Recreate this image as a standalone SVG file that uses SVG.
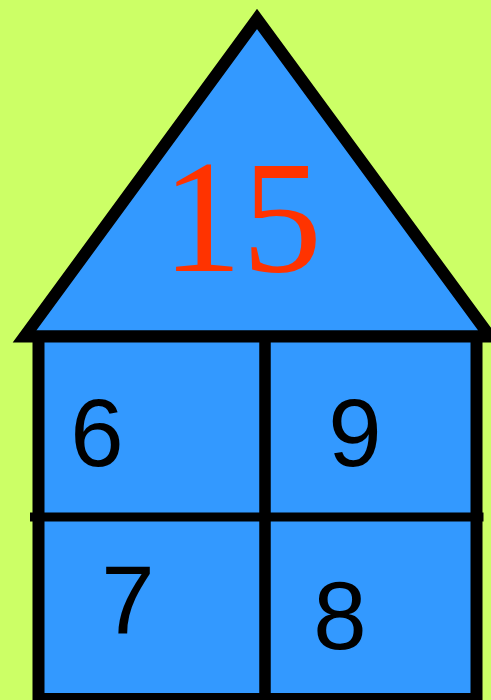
<svg xmlns="http://www.w3.org/2000/svg" width="491" height="700" viewBox="0 0 491 700">
<style>
.shape{fill:#3399FF;stroke:#000;stroke-width:12;stroke-linejoin:miter;stroke-miterlimit:10}
.line{stroke:#000;fill:none}
.num{font-family:"Liberation Sans",Arial,sans-serif;font-size:96px;fill:#000;text-anchor:middle}
.top{font-family:"Liberation Serif","Times New Roman",serif;font-size:160px;fill:#FF3300;text-anchor:middle}
</style>
<rect x="0" y="0" width="491" height="700" fill="#CCFF66"/>
<g id="roof">
<path class="shape" d="M257,19 L24.5,336.5 L490,336.5 Z"/>
<text class="top" x="242" y="271">15</text>
</g>
<g id="body">
<rect class="shape" x="38.5" y="336.5" width="438" height="362.5"/>
</g>
<g id="connectors">
<line class="line" x1="265" y1="336" x2="265" y2="700" stroke-width="11.5"/>
<line class="line" x1="30" y1="517" x2="483.5" y2="517" stroke-width="9"/>
</g>
<g id="cell-6"><text class="num" x="97" y="466">6</text></g>
<g id="cell-9"><text class="num" x="355" y="466">9</text></g>
<g id="cell-7"><text class="num" x="128" y="633">7</text></g>
<g id="cell-8"><text class="num" x="340" y="649">8</text></g>
</svg>
